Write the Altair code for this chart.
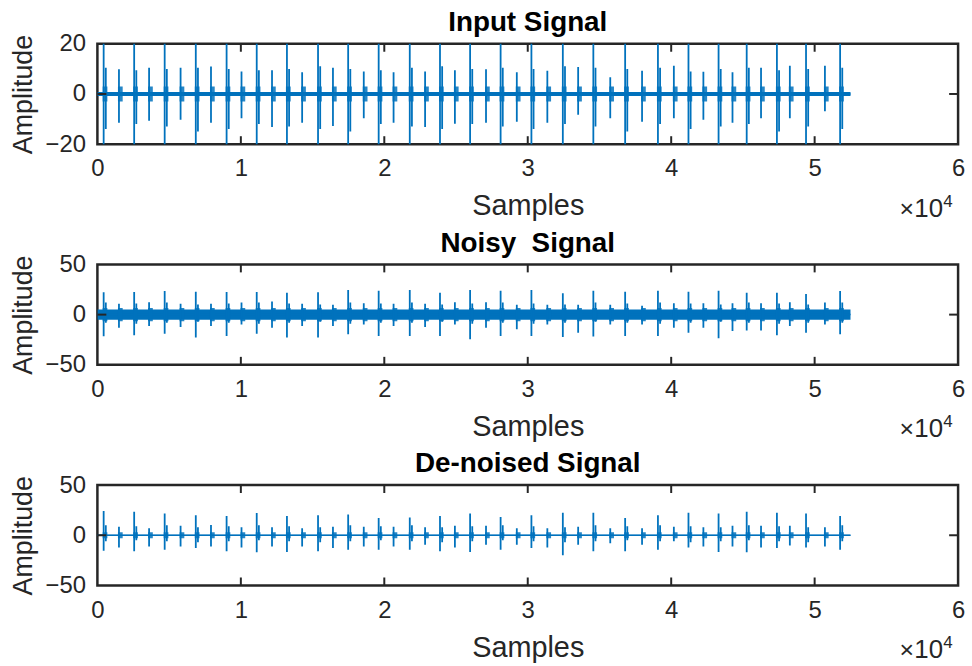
import altair as alt
import pandas as pd

# ---------------- data ----------------
signal_end = 52500
x_ticks = [0, 10000, 20000, 30000, 40000, 50000, 60000]

main_pos = [436, 2563, 4690, 6859, 9007, 11107, 13213, 15381, 17481, 19608,
            21776, 23883, 25982, 28109, 30256, 32446, 34573, 36790, 39076,
            41205, 43303, 45264, 47370, 49400, 51776]
sec_pos = [1503, 3603, 5799, 7919, 10046, 12173, 14273, 16421, 18569, 20647,
           22844, 24922, 27091, 29238, 31366, 33514, 35752, 37969, 40186,
           42244, 44274, 46263, 48272, 50717]

# Input signal (main beats exceed the +-20 axis limits)
in_main_up = [30, 28, 29, 30, 28, 29, 30, 28, 29, 30, 28, 29, 30,
              28, 29, 30, 28, 29, 30, 28, 29, 30, 28, 29, 30]
in_main_dn = [-30, -28, -29, -30, -28, -29, -30, -28, -29, -30, -28, -29, -30,
              -28, -29, -30, -28, -29, -30, -28, -29, -30, -28, -29, -30]
in_comp_up = [10.5, 9.5, 10.0, 10.5, 10.0, 9.5, 10.0, 11.0, 10.0, 9.5, 10.5, 11.0, 10.0,
              10.5, 10.0, 11.0, 10.5, 10.0, 10.5, 9.0, 10.0, 10.5, 9.5, 10.0, 10.5]
in_comp_dn = [-14, -12, -13, -15, -14, -12, -13, -14, -15, -12, -13, -14, -12,
              -13, -14, -12, -13, -15, -12, -14, -13, -12, -15, -13, -14]
in_sec_up = [9.9, 10.5, 10.5, 10.9, 9.0, 9.5, 8.7, 10.5, 9.0, 8.7, 9.0, 9.5,
             9.9, 8.7, 9.3, 10.8, 6.7, 9.3, 11.2, 8.9, 8.7, 10.5, 11.2, 11.2]
in_sec_dn = [-11.5, -10.7, -10.3, -11.5, -9.7, -13.2, -11.5, -12.8, -9.7, -11.5,
             -13.2, -11.9, -11.5, -11.1, -11.5, -8.3, -9.7, -11.1, -9.7, -10.3,
             -11.5, -9.7, -9.7, -6.9]

# Noisy signal
nz_main_up = [22.2, 22.5, 23.5, 22.9, 22.5, 22.5, 21.9, 22.2, 24.5, 23.8, 24.5, 21.9, 24.5,
              23.8, 24.5, 21.2, 23.8, 22.9, 23.8, 22.9, 23.8, 21.9, 21.9, 20.6, 23.5]
nz_main_dn = [-21.6, -20.6, -19.0, -22.9, -21.2, -19.0, -22.9, -22.9, -19.6, -21.2, -21.2, -21.2, -24.5,
              -21.2, -21.2, -22.2, -21.9, -21.2, -21.2, -18.0, -23.5, -15.7, -20.6, -18.0, -19.6]
nz_comp_up = [12, 11, 12, 10, 11, 12, 11, 10, 12, 11, 12, 10, 11,
              12, 11, 10, 12, 11, 12, 11, 10, 12, 11, 10, 12]
nz_comp_dn = [-8, -9, -8, -7, -8, -9, -8, -7, -9, -8, -8, -7, -9,
              -8, -9, -8, -7, -8, -9, -8, -7, -8, -9, -8, -8]
nz_sec_up = [10.8, 12.4, 10.8, 10.8, 12.1, 13.1, 10.8, 9.8, 11.4, 10.8, 10.8, 12.4,
             12.4, 9.8, 9.8, 9.8, 9.8, 8.8, 11.4, 11.4, 11.4, 11.4, 12.4, 12.1]
nz_sec_dn = [-13.1, -11.4, -12.4, -11.4, -9.8, -13.1, -11.4, -11.4, -9.8, -11.4, -12.4, -9.8,
             -13.1, -14.7, -9.8, -18.0, -9.8, -9.8, -13.1, -13.1, -16.3, -15.7, -11.4, -9.8]

# De-noised signal
dn_main_up = [24.2, 23.3, 21.6, 20.0, 19.3, 22.2, 19.3, 20.0, 20.6, 17.3, 17.6, 19.3, 21.6,
              18.3, 20.0, 22.5, 22.5, 17.3, 20.0, 22.5, 21.6, 23.3, 22.5, 21.6, 19.3]
dn_main_dn = [-15.4, -16.0, -14.4, -12.7, -16.0, -17.0, -16.7, -16.0, -14.4, -14.4, -14.4, -16.0, -16.7,
              -14.4, -12.7, -20.0, -16.0, -16.0, -14.4, -12.1, -16.7, -17.0, -12.7, -12.1, -14.4]
dn_comp_up = [10, 9, 10, 8, 9, 10, 9, 8, 10, 9, 10, 8, 9,
              10, 9, 8, 10, 9, 10, 9, 8, 10, 9, 8, 10]
dn_comp_dn = [-6, -5, -6, -7, -6, -5, -6, -7, -6, -5, -6, -7, -6,
              -5, -6, -7, -6, -5, -6, -7, -6, -5, -6, -7, -6]
dn_sec_up = [8.5, 6.9, 9.5, 10.2, 7.9, 7.9, 6.9, 8.5, 8.5, 8.5, 7.9, 9.5,
             9.5, 6.9, 6.9, 8.5, 6.9, 6.9, 8.5, 7.9, 9.5, 9.5, 9.5, 7.9]
dn_sec_dn = [-12.1, -11.1, -11.1, -11.1, -12.1, -11.1, -11.1, -12.7, -11.1, -11.1, -9.5, -12.1,
             -9.5, -9.5, -12.1, -9.5, -7.9, -9.5, -5.9, -11.1, -11.1, -12.1, -10.2, -11.1]

# ---------------- styling ----------------
BLUE = "#0072BD"
DARK = "#262626"
FONT = "Liberation Sans"
W, H = 866, 101


def panel(title, y_lim, y_ticks, band, cluster, m_up, m_dn, c_up, c_dn, s_up, s_dn):
    spikes = pd.DataFrame({
        "x": main_pos + [p + 150 for p in main_pos] + sec_pos,
        "lo": m_dn + c_dn + s_dn,
        "hi": m_up + c_up + s_up,
    })
    clusters = pd.DataFrame({
        "x": [p - 70 for p in main_pos + sec_pos],
        "x2": [p + 260 for p in main_pos + sec_pos],
        "lo": [-cluster] * (len(main_pos) + len(sec_pos)),
        "hi": [cluster] * (len(main_pos) + len(sec_pos)),
    })
    base = pd.DataFrame({"x": [0], "x2": [signal_end], "lo": [-band], "hi": [band]})
    xt = pd.DataFrame({"t": x_ticks[1:-1]})
    yt = pd.DataFrame({"t": [y_ticks[1]]})

    xs = alt.Scale(domain=[0, 60000], nice=False, zero=False)
    ys = alt.Scale(domain=y_lim, nice=False, zero=False)
    xaxis = alt.Axis(values=x_ticks, labelExpr="datum.value / 10000", title="Samples",
                     ticks=False, grid=False, domain=False, labelPadding=13,
                     labelFontSize=24, titleFontSize=29, titleFontWeight="normal",
                     labelColor=DARK, titleColor=DARK, labelFont=FONT, titleFont=FONT,
                     titlePadding=11, labelBound=False, labelOverlap=False, labelFlush=False)
    yaxis = alt.Axis(values=y_ticks, title="Amplitude", ticks=False, grid=False, domain=False,
                     labelPadding=12, labelFontSize=24, titleFontSize=27,
                     titleFontWeight="normal", labelColor=DARK, titleColor=DARK,
                     labelFont=FONT, titleFont=FONT, titlePadding=8,
                     labelOverlap=False, labelBound=False, labelFlush=False)

    l_base = alt.Chart(base).mark_rect(color=BLUE, clip=True).encode(
        x=alt.X("x:Q", scale=xs, axis=xaxis), x2="x2", y=alt.Y("lo:Q", scale=ys, axis=yaxis), y2="hi")
    l_zero = alt.Chart(base).mark_rule(color=BLUE, strokeWidth=1.5, clip=True).encode(
        x="x:Q", x2="x2", y=alt.datum(0))
    l_clu = alt.Chart(clusters).mark_rect(color=BLUE, opacity=0.85, clip=True).encode(
        x="x:Q", x2="x2", y="lo:Q", y2="hi")
    l_spk = alt.Chart(spikes).mark_rule(color=BLUE, strokeWidth=1.8, clip=True).encode(
        x="x:Q", y="lo:Q", y2="hi")
    tick_top = alt.Chart(xt).mark_rule(color=DARK, strokeWidth=2).encode(
        x="t:Q", y=alt.value(0), y2=alt.value(8))
    tick_bot = alt.Chart(xt).mark_rule(color=DARK, strokeWidth=2).encode(
        x="t:Q", y=alt.value(H), y2=alt.value(H - 8))
    tick_r = alt.Chart(yt).mark_rule(color=DARK, strokeWidth=2).encode(
        y="t:Q", x=alt.value(W), x2=alt.value(W - 9))
    tick_l = alt.Chart(yt).mark_rule(color=DARK, strokeWidth=2).encode(
        y="t:Q", x=alt.value(0), x2=alt.value(9))
    times = alt.Chart(base).mark_text(text="×", fontSize=25, font=FONT, color=DARK,
                                      align="left", baseline="alphabetic").encode(
        x=alt.value(W - 59), y=alt.value(H + 73))
    ten = alt.Chart(base).mark_text(text="10", fontSize=26, font=FONT, color=DARK,
                                    align="left", baseline="alphabetic").encode(
        x=alt.value(W - 44), y=alt.value(H + 73))
    four = alt.Chart(base).mark_text(text="4", fontSize=17, font=FONT, color=DARK,
                                     align="left", baseline="alphabetic").encode(
        x=alt.value(W - 15), y=alt.value(H + 63))

    return alt.layer(l_base, l_zero, l_clu, l_spk, tick_top, tick_bot, tick_r, tick_l,
                     times, ten, four).properties(
        width=W, height=H,
        title=alt.TitleParams(title, fontSize=28, font=FONT, fontWeight="bold",
                              color="black", anchor="middle", offset=-5, frame="group"))


p1 = panel("Input Signal", [-20, 20], [-20, 0, 20], 0.8, 3.0,
           in_main_up, in_main_dn, in_comp_up, in_comp_dn, in_sec_up, in_sec_dn)
p2 = panel("Noisy\u00a0\u00a0Signal", [-50, 50], [-50, 0, 50], 5.0, 6.5,
           nz_main_up, nz_main_dn, nz_comp_up, nz_comp_dn, nz_sec_up, nz_sec_dn)
p3 = panel("De-noised Signal", [-50, 50], [-50, 0, 50], 0.4, 3.0,
           dn_main_up, dn_main_dn, dn_comp_up, dn_comp_dn, dn_sec_up, dn_sec_dn)

chart = alt.vconcat(p1, p2, p3, spacing=4).properties(
    padding={"left": 8, "top": 5, "right": 6, "bottom": 0},
    background="white",
).configure_view(stroke=DARK, strokeWidth=2.5).configure_title(
    font=FONT)

chart.save("out.html", embed_options={"renderer": "svg", "actions": False})
